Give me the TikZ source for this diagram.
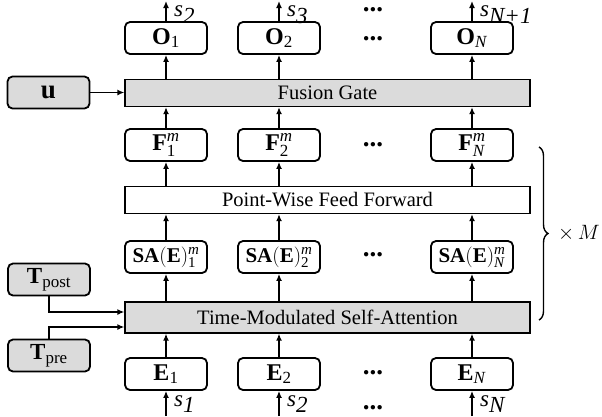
\documentclass[tikz,border=0pt]{standalone}
\usepackage{fontspec}
\setmainfont{Liberation Serif}
\usetikzlibrary{arrows.meta,decorations.pathreplacing,calc}
% script text at an explicit size
\newcommand{\scr}[2]{\hbox{\fontsize{#1}{#1}\selectfont#2}}
\begin{document}
\begin{tikzpicture}[x=1pt,y=-1pt,
  cell/.style={draw,rounded corners=5pt,line width=1.8pt,minimum width=82pt,minimum height=32pt,inner sep=0pt,font=\fontsize{24}{24}\selectfont},
  side/.style={cell,fill=gray!28},
  bar/.style={draw,line width=1.3pt,minimum width=405pt,inner sep=0pt,font=\fontsize{20.5}{20.5}\selectfont},
  grey/.style={fill=gray!28},
  arr/.style={-{Latex[length=7pt,width=6pt]},line width=1.4pt},
  dotsty/.style={inner sep=0pt,font=\fontsize{27}{27}\selectfont\bfseries},
  slab/.style={anchor=west,inner sep=0pt,font=\fontsize{23}{23}\selectfont}
]
\useasboundingbox (0,0) rectangle (602,416);

% processing layers
\node[bar,grey,minimum height=27pt] (fg) at (327.5,93) {Fusion Gate};
\node[bar,minimum height=27pt] (ff) at (327.5,200) {Point-Wise Feed Forward};
\node[bar,grey,minimum height=31pt] (tm) at (327.5,317.5) {Time-Modulated Self-Attention};

% side inputs
\node[side,font=\fontsize{27}{27}\selectfont] (u) at (48.5,92.5) {$\mathbf{u}$};
\node[side,font=\fontsize{23}{23}\selectfont] (tpost) at (49,279.5) {$\mathbf{T}_{\scr{17}{post}}$};
\node[side,font=\fontsize{23}{23}\selectfont] (tpre) at (49,355.5) {$\mathbf{T}_{\scr{17}{pre}}$};

% per-position cells
\foreach \x/\i/\k in {166/1/1,279/2/2,472/\textit{N}/n}{
  \node[cell] (o\k) at (\x,38) {$\mathbf{O}_{\scr{17}{\i}}$};
  \node[cell] (f\k) at (\x,145) {$\mathbf{F}_{\scr{17}{\i}}^{\scr{17}{\textit{m}}}$};
  \node[cell,font=\fontsize{21}{21}\selectfont] (sa\k) at (\x,257) {$\mathbf{SA}(\mathbf{E})_{\scr{15}{\i}}^{\scr{15}{\textit{m}}}$};
  \node[cell] (e\k) at (\x,374) {$\mathbf{E}_{\scr{17}{\i}}$};
  \coordinate (top\k) at (\x,1);
  \coordinate (bot\k) at (\x,416);
  \draw[arr] (e\k) -- (tm.south -| e\k);
  \draw[arr] (tm.north -| sa\k) -- (sa\k);
  \draw[arr] (sa\k) -- (ff.south -| sa\k);
  \draw[arr] (ff.north -| f\k) -- (f\k);
  \draw[arr] (f\k) -- (fg.south -| f\k);
  \draw[arr] (fg.north -| o\k) -- (o\k);
  \draw[arr] (o\k) -- (top\k);
  \draw[arr] (bot\k) -- (e\k);
}

% sequence labels
\node[slab] (s2) at (174,14.5) {\textit{s}$_{\textit{2}}$};
\node[slab] (s3) at (287,14.5) {\textit{s}$_{\textit{3}}$};
\node[slab] (sn1) at (480,14.5) {\textit{s}$_{\textit{N+1}}$};
\node[slab] (s1) at (174,404) {\textit{s}$_{\textit{1}}$};
\node[slab] (sb2) at (287,404) {\textit{s}$_{\textit{2}}$};
\node[slab] (sn) at (480,404) {\textit{s}$_{\textit{N}}$};

% ellipses
\foreach \y/\n in {10/a,39/b,145/c,255/d,373/e,408/f}{
  \node[dotsty] (dot\n) at (373,\y) {...};
}

% side connections
\draw[arr] (u) -- (fg.west |- u);
\coordinate (tpostbend) at (49,312);
\coordinate (tprebend) at (49,327);
\draw[arr] (tpost.south) -- (tpostbend) -- (tm.west |- tpostbend);
\draw[arr] (tpre.north) -- (tprebend) -- (tm.west |- tprebend);

% repetition brace
\coordinate (bt) at (539,147);
\coordinate (bb) at (539,320);
\draw[line width=1.4pt,decorate,decoration={brace,amplitude=9pt}] (bt) -- (bb);
\node[anchor=west,inner sep=0pt,font=\fontsize{21}{21}\selectfont] (rep) at (558,233.5) {$\times\, M$};
\end{tikzpicture}
\end{document}
